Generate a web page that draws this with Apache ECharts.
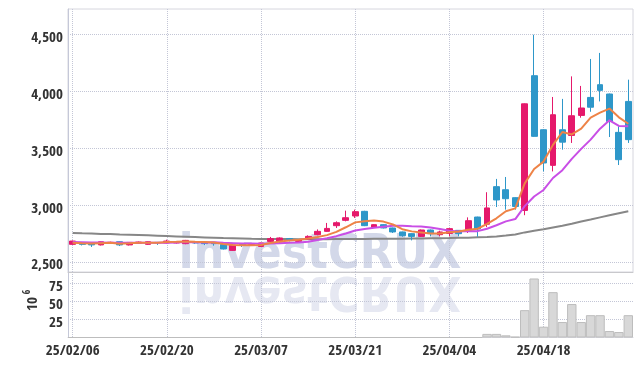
<!DOCTYPE html>
<html><head><meta charset="utf-8">
<script src="https://cdn.jsdelivr.net/npm/echarts@6/dist/echarts.min.js"></script>
<style>html,body{margin:0;padding:0;background:#fff}#c{width:642px;height:366px}</style>
</head><body><div id="c"></div>
<script>
const dates = ['25/02/06','25/02/07','25/02/10','25/02/11','25/02/12','25/02/13','25/02/14','25/02/17','25/02/18','25/02/19',
'25/02/20','25/02/21','25/02/24','25/02/25','25/02/26','25/02/27','25/02/28','25/03/04','25/03/05','25/03/06',
'25/03/07','25/03/10','25/03/11','25/03/12','25/03/13','25/03/14','25/03/17','25/03/18','25/03/19','25/03/20',
'25/03/21','25/03/24','25/03/25','25/03/26','25/03/27','25/03/28','25/03/31','25/04/01','25/04/02','25/04/03',
'25/04/04','25/04/07','25/04/08','25/04/09','25/04/10','25/04/11','25/04/14','25/04/15','25/04/16','25/04/17',
'25/04/18','25/04/21','25/04/22','25/04/23','25/04/24','25/04/25','25/04/28','25/04/29','25/04/30','25/05/02'];
// [open, close, low, high]
const ohlc = [
[2655,2684,2650,2688],[2660,2655,2645,2665],[2661,2650,2632,2665],[2650,2678,2645,2682],[2668,2673,2660,2678],
[2678,2650,2640,2680],[2650,2672,2645,2675],[2665,2675,2660,2680],[2655,2678,2650,2682],[2672,2668,2650,2676],
[2667,2684,2662,2696],[2667,2678,2662,2684],[2661,2690,2656,2694],[2672,2667,2660,2676],[2672,2661,2648,2676],
[2672,2661,2643,2676],[2655,2614,2610,2658],[2602,2649,2598,2652],[2658,2652,2632,2662],[2655,2661,2650,2665],
[2637,2667,2632,2670],[2681,2705,2675,2720],[2676,2711,2670,2716],[2705,2700,2681,2711],[2681,2693,2678,2697],
[2702,2725,2695,2734],[2740,2769,2734,2786],[2769,2795,2790,2843],[2819,2845,2799,2857],[2866,2889,2857,2951],
[2904,2942,2887,2960],[2945,2819,2815,2950],[2804,2828,2800,2832],[2828,2799,2795,2832],[2799,2764,2755,2802],
[2764,2731,2722,2767],[2749,2725,2690,2752],[2725,2781,2720,2785],[2781,2749,2725,2785],[2740,2764,2725,2775],
[2751,2793,2725,2799],[2778,2749,2725,2781],[2781,2863,2755,2892],[2895,2790,2722,2898],[2832,2975,2806,3113],
[3162,3045,2983,3230],[3135,3056,2960,3247],[3065,2988,2960,3068],[2953,3890,2911,3893],[4137,3604,3600,4497],
[3662,3370,3296,3665],[3349,3794,3296,3950],[3662,3553,3487,3933],[3612,3785,3546,4131],[3788,3853,3768,4047],
[3946,3860,3820,4284],[4058,4008,3911,4337],[3976,3735,3598,3980],[3639,3399,3352,3692],[3911,3575,3546,4102]];
const ma5 = [2668,2664,2662,2665,2668,2661,2665,2670,2670,2669,2675,2677,2680,2677,2676,2671,2659,2650,2647,2647,
2649,2667,2679,2689,2695,2707,2720,2736,2765,2805,2848,2858,2865,2855,2830,2788,2769,2760,2750,2750,
2762,2767,2784,2792,2834,2884,2946,2971,3191,3317,3382,3529,3642,3621,3671,3769,3812,3848,3771,3715];
const ma10 = [2676,2674,2672,2671,2670,2669,2668,2668,2668,2668,2668,2671,2675,2674,2672,2673,2668,2665,2662,2662,
2660,2663,2665,2668,2671,2678,2693,2708,2727,2750,2777,2789,2801,2810,2818,2818,2814,2812,2803,2790,
2775,2768,2772,2771,2792,2823,2857,2877,2991,3075,3133,3238,3307,3406,3494,3575,3671,3745,3696,3693];
const maLong = [2755,2752,2750,2747,2745,2742,2740,2737,2734,2731,2728,2725,2722,2719,2716,2713,2710,2708,2706,2704,
2703,2702,2701,2701,2700,2700,2700,2700,2701,2702,2703,2703,2704,2704,2705,2705,2706,2707,2708,2709,
2710,2712,2714,2717,2720,2725,2732,2742,2760,2775,2788,2803,2818,2836,2855,2873,2892,2910,2928,2945];
const volume = [0,0,0,0,0,0,0,0,0,0,0,0,0,0,0,0,0,0,0,0,0,0,0,0,0,0,0,0,0,0,0,0,0,0,0,0,0,0,0,0,
0,0,0,0,5,5,3,1,38,82,15,63,21.5,46.5,21.5,31,31,9,7.6,31];
const priceTicks = [2500,3000,3500,4000,4500];
const volTicks = [25,50,75];

const FONT = "'Open Sans Condensed','Roboto Condensed',sans-serif";
const gridLine = {show:true, lineStyle:{type:'dotted', color:'#c3c6d6', width:1}};
const labelStyle = {color:'#333', fontSize:15, fontFamily:FONT, margin:5};
const yLabelStyle = {color:'#333', fontSize:15, fontFamily:FONT, margin:5, verticalAlign:'top', lineHeight:7};
const chart = echarts.init(document.getElementById('c'), null, {renderer:'canvas'});
chart.setOption({
  animation:false,
  backgroundColor:'#fff',
  graphic:[
    {type:'text', x:320, y:256, z:-10, scaleX:0.9, style:{text:'investCRUX', fill:'#d3d8e9', font:"bold 48px 'DejaVu Sans'", textAlign:'center', textVerticalAlign:'middle'}},
    {type:'text', x:320, y:289, z:-10, scaleX:0.9, scaleY:-1, style:{text:'investCRUX', fill:'#e6e8f2', font:"bold 48px 'DejaVu Sans'", textAlign:'center', textVerticalAlign:'middle'}},
    {type:'text', x:33, y:304, rotation:Math.PI/2, style:{text:'10', fill:'#333', font:"15px "+FONT, textAlign:'center', textVerticalAlign:'middle'}},
    {type:'text', x:27, y:292, rotation:Math.PI/2, style:{text:'6', fill:'#333', font:"10px "+FONT, textAlign:'center', textVerticalAlign:'middle'}}
  ],
  grid:[
    {left:68, right:9, top:9, height:263, show:true, borderColor:'#d6d6de', borderWidth:1, backgroundColor:'transparent'},
    {left:68, right:9, top:272, height:65.5, show:false}
  ],
  xAxis:[
    {type:'category', gridIndex:0, data:dates, boundaryGap:true,
     axisLine:{show:true, lineStyle:{color:'#c8c8cc'}}, axisTick:{show:false}, axisLabel:{show:false, interval:9},
     splitLine:Object.assign({interval:9, alignWithLabel:true}, gridLine)},
    {type:'category', gridIndex:1, data:dates, boundaryGap:true,
     axisLine:{show:true, lineStyle:{color:'#d6d6de'}}, axisTick:{show:false},
     axisLabel:Object.assign({show:true, interval:9}, labelStyle, {margin:6}),
     splitLine:Object.assign({interval:9, alignWithLabel:true}, gridLine)}
  ],
  yAxis:[
    {type:'value', gridIndex:0, min:2412, max:4723, scale:true,
     axisLine:{show:true, lineStyle:{color:'#c5c8d8'}}, axisTick:{show:false, customValues:priceTicks},
     axisLabel:Object.assign({customValues:priceTicks}, yLabelStyle),
     splitLine:gridLine},
    {type:'value', gridIndex:1, min:0, max:91,
     axisLine:{show:true, lineStyle:{color:'#c5c8d8'}}, axisTick:{show:false, customValues:volTicks},
     axisLabel:Object.assign({customValues:volTicks}, yLabelStyle),
     splitLine:gridLine}
  ],
  series:[
    {type:'candlestick', xAxisIndex:0, yAxisIndex:0, data:ohlc, barWidth:'68%', z:5,
     itemStyle:{color:'#e5196b', color0:'#2e97c9', borderColor:'#e5196b', borderColor0:'#2e97c9', borderWidth:1}},
    {type:'line', xAxisIndex:0, yAxisIndex:0, data:maLong, symbol:'none', z:4, lineStyle:{color:'#878787', width:2}},
    {type:'line', xAxisIndex:0, yAxisIndex:0, data:ma10, symbol:'none', z:6, lineStyle:{color:'#c94ee6', width:2}},
    {type:'line', xAxisIndex:0, yAxisIndex:0, data:ma5, symbol:'none', z:7, lineStyle:{color:'#ee8347', width:2}},
    {type:'bar', xAxisIndex:1, yAxisIndex:1, data:volume, barWidth:'100%', z:3,
     itemStyle:{color:'#d8d8d8', borderColor:'#bdbdbd', borderWidth:1}}
  ]
});
</script></body></html>
